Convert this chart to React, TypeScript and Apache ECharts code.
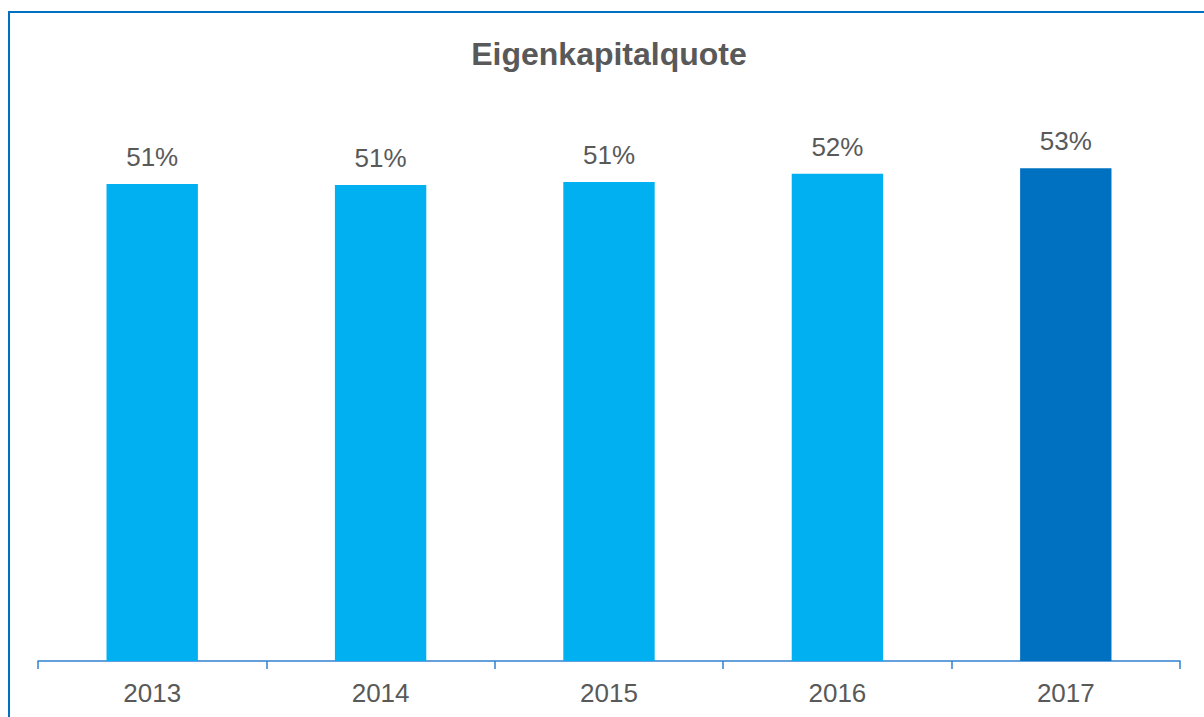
import React, { useEffect, useRef } from "react";
import * as echarts from "echarts";

const title = "Eigenkapitalquote";
const categories = ["2013", "2014", "2015", "2016", "2017"];
const values = [51.2, 51.1, 51.4, 52.3, 52.9];
const barColors = ["#00B0F0", "#00B0F0", "#00B0F0", "#00B0F0", "#0070C0"];

export default function App() {
  const ref = useRef<HTMLDivElement>(null);
  useEffect(() => {
    if (!ref.current) return;
    const chart = echarts.init(ref.current, null, { renderer: "svg" });
    chart.setOption({
      animation: false,
      title: {
        text: title,
        left: "center",
        top: 20,
        textStyle: {
          fontFamily: "Liberation Sans, Arial, sans-serif",
          fontSize: 32,
          fontWeight: "bold",
          color: "#595959",
        },
      },
      grid: { left: 28, right: 28, top: 89, bottom: 72, containLabel: false },
      xAxis: {
        type: "category",
        data: categories,
        axisLine: { lineStyle: { color: "#2F80D0", width: 1.5 } },
        axisTick: { show: true, length: 8, lineStyle: { color: "#2F80D0", width: 1.5 } },
        axisLabel: {
          margin: 19,
          fontFamily: "Liberation Sans, Arial, sans-serif",
          fontSize: 26,
          color: "#595959",
        },
      },
      yAxis: { type: "value", min: 0, max: 60, show: false, splitLine: { show: false } },
      series: [
        {
          type: "bar",
          data: values.map((v, i) => ({ value: v, itemStyle: { color: barColors[i] } })),
          barCategoryGap: "60%",
          label: {
            show: true,
            position: "top",
            distance: 14,
            formatter: (p: any) => Math.round(p.value) + "%",
            fontFamily: "Liberation Sans, Arial, sans-serif",
            fontSize: 26,
            color: "#595959",
          },
        },
      ],
    });
    return () => chart.dispose();
  }, []);
  return (
    <div
      style={{
        position: "fixed",
        left: 8,
        top: 11,
        width: 1202,
        height: 722,
        border: "2px solid #0070C0",
        boxSizing: "border-box",
        background: "#fff",
      }}
    >
      <div ref={ref} style={{ width: 1198, height: 720 }} />
    </div>
  );
}
